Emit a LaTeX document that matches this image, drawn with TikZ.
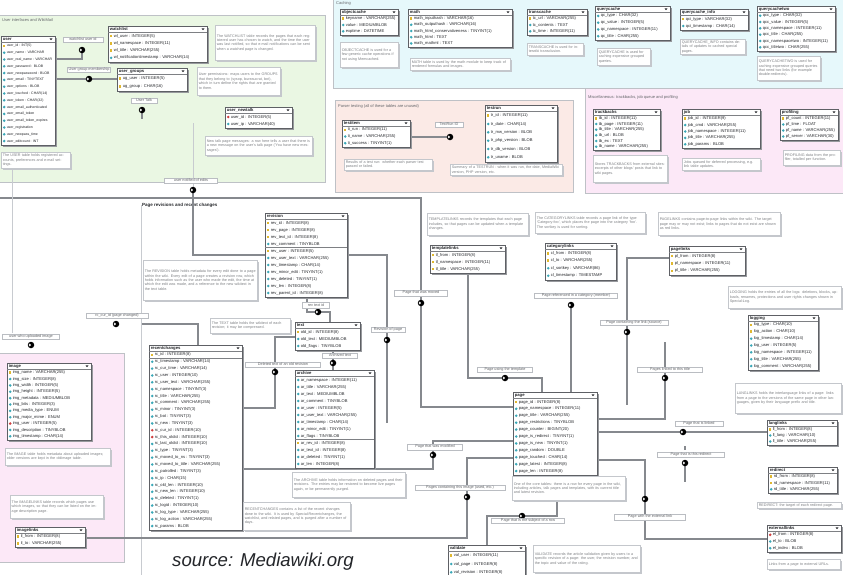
\PassOptionsToPackage{rgb}{xcolor}
\documentclass[tikz,border=0pt]{standalone}
\usepackage{fontspec}
\setmainfont{Liberation Sans}
\usetikzlibrary{shapes.geometric}
\definecolor{greenbg}{RGB}{234,247,227}
\definecolor{cyanbg}{RGB}{230,248,251}
\definecolor{salmonbg}{RGB}{251,234,230}
\definecolor{pinkbg}{RGB}{252,232,247}
\definecolor{keyc}{RGB}{224,184,48}
\definecolor{colc}{RGB}{58,168,184}
\definecolor{fkc}{RGB}{208,64,64}
\definecolor{tborder}{RGB}{94,96,101}
\definecolor{wirec}{RGB}{134,137,142}
\definecolor{wirelc}{RGB}{200,203,208}
\definecolor{labc}{RGB}{186,189,194}
\definecolor{notec}{RGB}{196,199,204}
\definecolor{regc}{RGB}{190,193,198}
\definecolor{shadc}{RGB}{151,153,157}
\definecolor{sepc}{RGB}{126,128,132}
\definecolor{rowc}{RGB}{36,38,42}
\definecolor{notetc}{RGB}{126,128,132}
\definecolor{labtc}{RGB}{100,102,106}
\tikzset{
  tbox/.style={draw=tborder, fill=white, line width=0.6pt, inner sep=0pt, outer sep=0pt},
  tshadow/.style={fill=shadc},
  tsep/.style={fill=sepc},
  thead/.style={font=\fontsize{4.2}{4.2}\selectfont\bfseries, inner sep=0pt, text=rowc},
  trow/.style={font=\fontsize{4.1}{4.1}\selectfont, inner sep=0pt, text=rowc},
  ick/.style={rectangle, fill=keyc, minimum width=2.2pt, minimum height=2.6pt, inner sep=0pt},
  icc/.style={diamond, fill=colc, minimum size=3pt, inner sep=0pt},
  icf/.style={diamond, fill=fkc, minimum size=3pt, inner sep=0pt},
  icon/.code={\if k#1\pgfkeysalso{ick}\else\if f#1\pgfkeysalso{icf}\else\pgfkeysalso{icc}\fi\fi},
  nbox/.style={draw=notec, fill=white, line width=0.5pt, inner sep=1.5pt, align=left, font=\fontsize{3.7}{4.4}\selectfont, text=notetc},
  nshadow/.style={fill=notec},
  lab/.style={draw=labc, fill=white, line width=0.5pt, inner sep=0.8pt, font=\fontsize{3.8}{4}\selectfont, text=labtc, minimum height=5.5pt},
  wire/.style={draw=wirec, line width=1.3pt},
  wirel/.style={draw=wirelc, line width=1pt},
  jn/.style={circle, fill=black, minimum size=6.5pt, inner sep=0pt},
  jnin/.style={diamond, fill=white, minimum width=2.4pt, minimum height=3pt, inner sep=0pt},
  rtitle/.style={font=\fontsize{4}{4}\selectfont, text=labtc, inner sep=0pt, anchor=west},
}
% #1 name, #2 x1, #3 y1, #4 x2, #5 y2, #6 title, #7 rows
\newcommand\dbtab[7]{%
  \foreach \rt/\rk [count=\cn] in {#7} {\xdef\nrows{\cn}}%
  \pgfmathsetmacro\tbw{#4-(#2)}%
  \pgfmathsetmacro\tbh{#5-(#3)}%
  \pgfmathsetmacro\rowh{(#5-(#3)-7)/\nrows}%
  \fill[tshadow] (#2+1.6,#3+1.6) rectangle (#4+1.6,#5+1.6);
  \node[tbox, minimum width=\tbw pt, minimum height=\tbh pt, anchor=north west] (#1) at (#2,#3) {};
  \fill[tsep] (#2,#3+6.2) rectangle (#4,#3+6.8);
  \node[thead, anchor=west] (#1-h) at (#2+1.6,#3+3.4) {#6};
  \fill[rowc] (#4-5.5,#3+2.4) -- (#4-2.5,#3+2.4) -- (#4-4,#3+4.2) -- cycle;
  \foreach \rt/\rk [count=\i] in {#7} {%
    \pgfmathsetmacro\yy{#3+6.5+(\i-0.5)*\rowh}%
    \node[icon=\rk] (#1-i\i) at (#2+3.2,\yy) {};
    \node[trow, anchor=west] (#1-r\i) at (#2+5.6,\yy) {\rt};
  }%
}
% #1 name, #2 x1, #3 y1, #4 x2, #5 y2, #6 text
\newcommand\dbnote[6]{%
  \pgfmathsetmacro\nbw{#4-(#2)}\pgfmathsetmacro\nbh{#5-(#3)}\pgfmathsetmacro\nbt{#4-(#2)-3}%
  \node[nbox, minimum width=\nbw pt, minimum height=\nbh pt, text width=\nbt pt, anchor=north west] (#1) at (#2,#3) {#6};
  \fill[nshadow] ([shift={(0.25pt,-1.5pt)}]#1.north east) rectangle ([shift={(1.2pt,-1.2pt)}]#1.south east);
  \fill[nshadow] ([shift={(1.5pt,-0.25pt)}]#1.south west) rectangle ([shift={(1.2pt,-1.2pt)}]#1.south east);
}
% junction marker on coordinate #1
\newcommand\junc[1]{%
  \node[jn] (j#1) at (#1) {};
  \node[jnin] (j#1-in) at ([xshift=-1.2pt]#1) {};
}
\begin{document}
\begin{tikzpicture}[x=1pt,y=-1pt]
\useasboundingbox (0,0) rectangle (843,574);
\fill[white] (0,0) rectangle (843,574);

% ---------- regions ----------
\fill[greenbg, draw=regc, line width=0.5pt] (-2,15) rectangle (325,182);
\node[rtitle] (tgreen) at (2,20) {User interfaces and WikiMail};
\fill[cyanbg, draw=regc, line width=0.5pt] (333,-2) rectangle (845,88);
\node[rtitle] (tcyan) at (336,3) {Caching};
\fill[salmonbg, draw=regc, line width=0.5pt] (335,100) rectangle (573,192);
\node[rtitle] (tsalmon) at (338,106) {Parser testing (all of these tables are unused)};
\fill[pinkbg, draw=regc, line width=0.5pt] (585,88) rectangle (845,193);
\node[rtitle] (tpink) at (588,97) {Miscellaneous: trackbacks, job queue and profiling};
\fill[pinkbg, draw=regc, line width=0.5pt] (-2,353) rectangle (124,562);
\node[font=\fontsize{4.5}{4.5}\selectfont\bfseries, text=rowc, inner sep=0pt, anchor=west] (tcentral) at (142,205.5) {Page revisions and recent changes};

% ---------- junction and end-point coordinates ----------
\coordinate (dwl) at (82,50);
\coordinate (dug) at (89,79);
\coordinate (dtalk) at (142,110);
\coordinate (talkend) at (142,119);
\coordinate (nt1) at (193,123);
\coordinate (dnotify) at (193,190);
\coordinate (topleft) at (-2,198);
\coordinate (mv1) at (421,198);
\coordinate (dmove) at (421,303);
\coordinate (u1) at (12,168);
\coordinate (u2) at (12,333);
\coordinate (v1) at (141,205);
\coordinate (v2) at (141,576);
\coordinate (rcj) at (142,324);
\coordinate (dcur) at (116,324);
\coordinate (dimguser) at (31,345);
\coordinate (drev) at (387,340);
\coordinate (revend) at (387,423);
\coordinate (dtxt) at (318,312);
\coordinate (ddel) at (275,372);
\coordinate (darc) at (333,363);
\coordinate (dmod) at (433,455);
\coordinate (dimg) at (467,497);
\coordinate (dtpl) at (505,378);
\coordinate (dcat) at (571,305);
\coordinate (dpl) at (627,332);
\coordinate (plend) at (627,405);
\coordinate (plt) at (665,342);
\coordinate (dplt) at (665,378);
\coordinate (dll) at (683,432);
\coordinate (drd) at (685,463);
\coordinate (rdend) at (685,482);
\coordinate (rdt1) at (685,446);
\coordinate (rdt2) at (685,450);
\coordinate (del) at (645,499);
\coordinate (dval) at (522,516);
\coordinate (dtr) at (450,137);
% ports on table edges
\coordinate (userE1) at (55,59);
\coordinate (userE2) at (55,79);
\coordinate (ugW) at (117,79);
\coordinate (revW) at (265,255);
\coordinate (revE) at (347,255);
\coordinate (revS) at (307,297);
\coordinate (txtN) at (330,322);
\coordinate (txtW) at (295,337);
\coordinate (txtS) at (333,350);
\coordinate (arcN) at (333,370);
\coordinate (rcN) at (198,345);
\coordinate (rcE1) at (242,408);
\coordinate (rcE2) at (242,469);
\coordinate (ilE) at (85,538);
\coordinate (tlS) at (468,273);
\coordinate (plW) at (669,258);
\coordinate (pgW1) at (513,407);
\coordinate (pgW2) at (513,441);
\coordinate (pgW3) at (513,458);
\coordinate (pgN1) at (542,392);
\coordinate (pgN2) at (571,392);
\coordinate (pgE1) at (597,419);
\coordinate (pgE2) at (597,432);
\coordinate (pgE3) at (597,460);
\coordinate (pgS) at (557,475);
\coordinate (llW) at (767,432);
\coordinate (elW) at (767,539);
\coordinate (valN) at (487,545);
\coordinate (tiE) at (410,137);

% ---------- connectors (drawn beneath the tables) ----------
\draw[wire] (userE1) -| (dwl);
\draw[wire] (userE2) -- (ugW);
\draw[wire] (dtalk) -- (talkend);
\draw[wirel] (nt1) -- (dnotify);
\draw[wire] (dnotify) |- (revW);
\draw[wire] (topleft) -- (mv1) |- (pgW1);
\draw[wirel] (u1) -- (u2);
\draw[wirel] (v1) -- (v2);
\draw[wire] (tiE) -- (dtr);
\draw[wire] (rcN) |- (rcj);
\draw[wire] (revE) -| (revend);
\draw[wire] (revS) |- (dtxt) -| (txtN);
\draw[wire] (txtW) -| (ddel) |- (rcE1);
\draw[wire] (txtS) -- (arcN);
\draw[wire] (rcE2) -| (dmod) |- (pgW2);
\draw[wire] (ilE) -| (dimg) |- (pgW3);
\draw[wire] (tlS) |- (dtpl) -| (pgN1);
\draw[wire] (dcat) -- (pgN2);
\draw[wire] (plW) -| (plend);
\draw[wire] (plt) |- (pgE1);
\draw[wire] (pgE2) -- (llW);
\draw[wire] (drd) -- (rdend);
\draw[wire] (rdt1) -- (rdt2);
\draw[wire] (pgE3) -| (del) |- (elW);
\draw[wire] (pgS) |- (dval) -| (valN);

% ---------- tables ----------
\begin{scope}[trow/.style={font=\fontsize{3.5}{3.5}\selectfont, inner sep=0pt, text=rowc}]
\dbtab{user}{1}{36}{55}{145}{user}{user\_id : INT(5)/k, user\_name : VARCHAR/c, user\_real\_name : VARCHAR/c, user\_password : BLOB/c, user\_newpassword : BLOB/c, user\_email : TINYTEXT/c, user\_options : BLOB/c, user\_touched : CHAR(14)/c, user\_token : CHAR(32)/c, user\_email\_authenticated/c, user\_email\_token/c, user\_email\_token\_expires/c, user\_registration/c, user\_newpass\_time/c, user\_editcount : INT/c}
\end{scope}
\dbtab{watchlist}{108}{26}{207}{62}{watchlist}{wl\_user : INTEGER(5)/k, wl\_namespace : INTEGER(11)/k, wl\_title : VARCHAR(255)/k, wl\_notificationtimestamp : VARCHAR(14)/c}
\dbtab{usergroups}{117}{68}{187}{91}{user\_groups}{ug\_user : INTEGER(5)/k, ug\_group : CHAR(16)/k}
\dbtab{usernewtalk}{225}{107}{292}{128}{user\_newtalk}{user\_id : INTEGER(5)/f, user\_ip : VARCHAR(40)/c}

\dbtab{objectcache}{340}{9}{398}{35}{objectcache}{keyname : VARCHAR(255)/k, value : MEDIUMBLOB/c, exptime : DATETIME/c}
\dbtab{math}{408}{9}{512}{47}{math}{math\_inputhash : VARCHAR(16)/k, math\_outputhash : VARCHAR(16)/c, math\_html\_conservativeness : TINYINT(1)/c, math\_html : TEXT/c, math\_mathml : TEXT/c}
\dbtab{transcache}{527}{9}{587}{35}{transcache}{tc\_url : VARCHAR(255)/k, tc\_contents : TEXT/c, tc\_time : INTEGER(11)/c}
\dbtab{querycache}{595}{6}{670}{40}{querycache}{qc\_type : CHAR(32)/c, qc\_value : INTEGER(5)/c, qc\_namespace : INTEGER(11)/c, qc\_title : CHAR(255)/c}
\dbtab{querycacheinfo}{680}{9}{748}{30}{querycache\_info}{qci\_type : VARCHAR(32)/k, qci\_timestamp : CHAR(14)/c}
\dbtab{querycachetwo}{757}{6}{835}{51}{querycachetwo}{qcc\_type : CHAR(32)/c, qcc\_value : INTEGER(5)/c, qcc\_namespace : INTEGER(11)/c, qcc\_title : CHAR(255)/c, qcc\_namespacetwo : INTEGER(11)/c, qcc\_titletwo : CHAR(255)/c}

\dbtab{testitem}{342}{120}{410}{147}{testitem}{ti\_run : INTEGER(11)/k, ti\_name : VARCHAR(255)/c, ti\_success : TINYINT(1)/c}
\dbtab{testrun}{485}{105}{557}{162}{testrun}{tr\_id : INTEGER(11)/k, tr\_date : CHAR(14)/c, tr\_mw\_version : BLOB/c, tr\_php\_version : BLOB/c, tr\_db\_version : BLOB/c, tr\_uname : BLOB/c}

\dbtab{trackbacks}{593}{109}{660}{150}{trackbacks}{tb\_id : INTEGER(11)/k, tb\_page : INTEGER(11)/c, tb\_title : VARCHAR(255)/c, tb\_url : BLOB/c, tb\_ex : TEXT/c, tb\_name : VARCHAR(255)/c}
\dbtab{job}{682}{109}{760}{148}{job}{job\_id : INTEGER(9)/k, job\_cmd : VARCHAR(255)/c, job\_namespace : INTEGER(11)/c, job\_title : VARCHAR(255)/c, job\_params : BLOB/c}
\dbtab{profiling}{780}{109}{838}{140}{profiling}{pf\_count : INTEGER(11)/k, pf\_time : FLOAT/c, pf\_name : VARCHAR(255)/c, pf\_server : VARCHAR(30)/c}

\dbtab{revision}{265}{213}{347}{297}{revision}{rev\_id : INTEGER(8)/k, rev\_page : INTEGER(8)/k, rev\_text\_id : INTEGER(8)/k, rev\_comment : TINYBLOB/c, rev\_user : INTEGER(5)/k, rev\_user\_text : VARCHAR(255)/c, rev\_timestamp : CHAR(14)/c, rev\_minor\_edit : TINYINT(1)/c, rev\_deleted : TINYINT(1)/c, rev\_len : INTEGER(8)/c, rev\_parent\_id : INTEGER(8)/c}
\fill[tsep] (265,247.2) rectangle (347,247.8);
\dbtab{text}{295}{322}{360}{350}{text}{old\_id : INTEGER(8)/k, old\_text : MEDIUMBLOB/c, old\_flags : TINYBLOB/c}
\dbtab{archive}{295}{370}{374}{468}{archive}{ar\_namespace : INTEGER(11)/c, ar\_title : VARCHAR(255)/c, ar\_text : MEDIUMBLOB/c, ar\_comment : TINYBLOB/c, ar\_user : INTEGER(5)/c, ar\_user\_text : VARCHAR(255)/c, ar\_timestamp : CHAR(14)/c, ar\_minor\_edit : TINYINT(1)/c, ar\_flags : TINYBLOB/c, ar\_rev\_id : INTEGER(8)/k, ar\_text\_id : INTEGER(8)/c, ar\_deleted : TINYINT(1)/c, ar\_len : INTEGER(8)/c}
\fill[tsep] (295,439.2) rectangle (374,439.8);
\dbtab{recentchanges}{149}{345}{242}{530}{recentchanges}{rc\_id : INTEGER(8)/k, rc\_timestamp : VARCHAR(14)/c, rc\_cur\_time : VARCHAR(14)/c, rc\_user : INTEGER(10)/c, rc\_user\_text : VARCHAR(255)/c, rc\_namespace : TINYINT(3)/c, rc\_title : VARCHAR(255)/c, rc\_comment : VARCHAR(255)/c, rc\_minor : TINYINT(3)/c, rc\_bot : TINYINT(3)/c, rc\_new : TINYINT(3)/c, rc\_cur\_id : INTEGER(10)/f, rc\_this\_oldid : INTEGER(10)/f, rc\_last\_oldid : INTEGER(10)/c, rc\_type : TINYINT(3)/c, rc\_moved\_to\_ns : TINYINT(3)/c, rc\_moved\_to\_title : VARCHAR(255)/c, rc\_patrolled : TINYINT(3)/c, rc\_ip : CHAR(15)/c, rc\_old\_len : INTEGER(10)/c, rc\_new\_len : INTEGER(10)/c, rc\_deleted : TINYINT(1)/c, rc\_logid : INTEGER(10)/c, rc\_log\_type : VARCHAR(255)/c, rc\_log\_action : VARCHAR(255)/c, rc\_params : BLOB/c}
\fill[tsep] (149,358.1) rectangle (242,358.7);
\dbtab{page}{513}{392}{597}{475}{page}{page\_id : INTEGER(8)/k, page\_namespace : INTEGER(11)/c, page\_title : VARCHAR(255)/c, page\_restrictions : TINYBLOB/c, page\_counter : BIGINT(20)/c, page\_is\_redirect : TINYINT(1)/c, page\_is\_new : TINYINT(1)/c, page\_random : DOUBLE/c, page\_touched : CHAR(14)/c, page\_latest : INTEGER(8)/c, page\_len : INTEGER(8)/c}
\dbtab{templatelinks}{430}{245}{505}{273}{templatelinks}{tl\_from : INTEGER(8)/k, tl\_namespace : INTEGER(11)/k, tl\_title : VARCHAR(255)/k}
\dbtab{categorylinks}{545}{243}{616}{280}{categorylinks}{cl\_from : INTEGER(8)/k, cl\_to : VARCHAR(255)/k, cl\_sortkey : VARCHAR(86)/c, cl\_timestamp : TIMESTAMP/c}
\dbtab{pagelinks}{669}{246}{745}{275}{pagelinks}{pl\_from : INTEGER(8)/k, pl\_namespace : INTEGER(11)/k, pl\_title : VARCHAR(255)/k}
\dbtab{logging}{748}{315}{818}{370}{logging}{log\_type : CHAR(10)/k, log\_action : CHAR(10)/k, log\_timestamp : CHAR(14)/c, log\_user : INTEGER(5)/c, log\_namespace : INTEGER(11)/c, log\_title : VARCHAR(255)/c, log\_comment : VARCHAR(255)/c}
\dbtab{langlinks}{767}{420}{837}{445}{langlinks}{ll\_from : INTEGER(8)/k, ll\_lang : VARCHAR(10)/c, ll\_title : VARCHAR(255)/c}
\dbtab{redirect}{768}{467}{837}{493}{redirect}{rd\_from : INTEGER(8)/k, rd\_namespace : INTEGER(11)/k, rd\_title : VARCHAR(255)/c}
\dbtab{externallinks}{767}{525}{841}{552}{externallinks}{el\_from : INTEGER(8)/f, el\_to : BLOB/c, el\_index : BLOB/c}
\dbtab{validate}{448}{545}{525}{577}{validate}{val\_user : INTEGER(11)/k, val\_page : INTEGER(8)/c, val\_revision : INTEGER(8)/c}
\dbtab{image}{7}{363}{91}{440}{image}{img\_name : VARCHAR(255)/k, img\_size : INTEGER(8)/c, img\_width : INTEGER(5)/c, img\_height : INTEGER(5)/c, img\_metadata : MEDIUMBLOB/c, img\_bits : INTEGER(3)/c, img\_media\_type : ENUM/c, img\_major\_mime : ENUM/c, img\_user : INTEGER(5)/f, img\_description : TINYBLOB/c, img\_timestamp : CHAR(14)/c}
\dbtab{imagelinks}{15}{527}{85}{547}{imagelinks}{il\_from : INTEGER(8)/k, il\_to : VARCHAR(255)/k}

% ---------- notes ----------
\dbnote{nuser}{1}{152}{70}{168}{The USER table holds registered accounts, preferences and e-mail settings.}
\dbnote{nwatch}{215}{25}{315}{60}{The WATCHLIST table records the pages that each registered user has chosen to watch, and the time the user was last notified, so that e-mail notifications can be sent when a watched page is changed.}
\dbnote{nug}{197}{67}{280}{95}{User permissions: maps users to the GROUPS that they belong to (sysop, bureaucrat, bot), which in turn define the rights that are granted to them.}
\dbnote{nnewtalk}{205}{136}{312}{155}{New talk page messages: a row here tells a user that there is a new message on the user's talk page ('You have new messages').}
\dbnote{nobj}{340}{42}{398}{67}{OBJECTCACHE is used for a few generic cache operations if not using Memcached.}
\dbnote{nmath}{410}{58}{510}{70}{MATH table is used by the math module to keep track of rendered formulas and images.}
\dbnote{ntrans}{527}{43}{583}{55}{TRANSCACHE is used for interwiki transclusion.}
\dbnote{nqc}{597}{48}{650}{65}{QUERYCACHE is used for caching expensive grouped queries.}
\dbnote{nqci}{680}{39}{745}{52}{QUERYCACHE\_INFO contains details of updates to cached special pages.}
\dbnote{nqcc}{757}{56}{820}{80}{QUERYCACHETWO is used for caching expensive grouped queries that need two links (for example double-redirects).}
\dbnote{ntestitem}{344}{159}{432}{170}{Results of a test run: whether each parser test passed or failed.}
\dbnote{ntestrun}{450}{164}{562}{175}{Summary of a TESTRUN - when it was run, the date, MediaWiki version, PHP version, etc.}
\dbnote{ntrack}{593}{155}{667}{182}{Stores TRACKBACKS from external sites: excerpts of other blogs' posts that link to wiki pages.}
\dbnote{njob}{682}{158}{760}{170}{Jobs queued for deferred processing, e.g. link table updates.}
\dbnote{nprof}{783}{150}{840}{165}{PROFILING data from the profiler, totalled per function.}
\dbnote{nrev}{143}{260}{257}{300}{The REVISION table holds metadata for every edit done to a page within the wiki. Every edit of a page creates a revision row, which holds information such as the user who made the edit, the time at which the edit was made, and a reference to the new wikitext in the text table.}
\dbnote{ntext}{210}{318}{290}{333}{The TEXT table holds the wikitext of each revision; it may be compressed.}
\dbnote{narch}{292}{472}{405}{497}{The ARCHIVE table holds information on deleted pages and their revisions. The entries may be restored to become live pages again, or be permanently purged.}
\dbnote{nrc}{243}{502}{350}{530}{RECENTCHANGES contains a list of the recent changes done to the wiki. It is used by Special:Recentchanges, the watchlist, and related pages, and is purged after a number of days.}
\dbnote{ntpl}{427}{213}{528}{235}{TEMPLATELINKS records the templates that each page includes, so that pages can be updated when a template changes.}
\dbnote{ncat}{535}{212}{645}{233}{The CATEGORYLINKS table records a page link of the type 'Category:foo', which places the page into the category 'foo'. The sortkey is used for sorting.}
\dbnote{npl}{658}{212}{780}{235}{PAGELINKS contains page-to-page links within the wiki. The target page may or may not exist; links to pages that do not exist are shown as red links.}
\dbnote{nlog}{728}{286}{841}{308}{LOGGING holds the entries of all the logs: deletions, blocks, uploads, renames, protections and user rights changes shown in Special:Log.}
\dbnote{nll}{735}{383}{841}{413}{LANGLINKS holds the interlanguage links of a page: links from a page to the versions of the same page in other languages, given by their language prefix and title.}
\dbnote{npage}{512}{476}{625}{500}{One of the core tables: there is a row for every page in the wiki, including articles, talk pages and templates, with its current title and latest revision.}
\dbnote{nval}{533}{545}{640}{572}{VALIDATE records the article validation given by users to a specific revision of a page: the user, the revision number, and the topic and value of the rating.}
\dbnote{nrd}{757}{502}{841}{508}{REDIRECT: the target of each redirect page.}
\dbnote{nel}{767}{559}{840}{569}{Links from a page to external URLs.}
\dbnote{nimg}{5}{448}{110}{465}{The IMAGE table holds metadata about uploaded images; older versions are kept in the oldimage table.}
\dbnote{nil}{10}{495}{103}{518}{The IMAGELINKS table records which pages use which images, so that they can be listed on the image description page.}

% ---------- junctions ----------
\foreach \jj in {dwl,dug,dtalk,dnotify,dmove,dcur,dimguser,drev,dtxt,ddel,darc,dmod,dimg,dtpl,dcat,dpl,dplt,dll,drd,del,dval,dtr} {\junc{\jj}}

% ---------- labels ----------
\node[lab, minimum width=40pt] (lwl) at (83,39.5) {watchlist user id};
\node[lab, minimum width=43pt] (lug) at (89,69.5) {User group membership};
\node[lab, minimum width=26pt] (ltalk) at (144,100.5) {User Talk};
\node[lab, minimum width=53pt] (lnotify) at (191,180.5) {user notified of edits};
\node[lab, minimum width=57pt] (limguser) at (31,336.5) {user who uploaded image};
\node[lab, minimum width=62pt] (lcur) at (117,315.5) {rc\_cur\_id (page changed)};
\node[lab, minimum width=27pt] (lrtext) at (316,305) {rev text id};
\node[lab, minimum width=34pt] (lrpage) at (388,329.5) {Revision of page};
\node[lab, minimum width=53pt] (lmove) at (421,293) {Page that was moved};
\node[lab, minimum width=75pt] (ldel) at (283,364.5) {Deleted text of an old revision};
\node[lab, minimum width=35pt] (larc) at (340,355.5) {Archived text};
\node[lab, minimum width=55pt] (lmod) at (435,447) {Page that was modified};
\node[lab, minimum width=90pt] (limg) at (460,487.5) {Pages containing this image (used, etc.)};
\node[lab, minimum width=73pt] (lval) at (528,520.5) {Page that is the subject of a row};
\node[lab, minimum width=55pt] (ltpl) at (505,369.5) {Page using the template};
\node[lab, minimum width=83pt] (lcat) at (576,295.5) {Page referenced in a category (member)};
\node[lab, minimum width=68pt] (lpl) at (634,322.5) {Page containing the link (source)};
\node[lab, minimum width=65pt] (lplt) at (670,369.5) {Pages linked to this title};
\node[lab, minimum width=48pt] (lll) at (699,423.5) {Page that is linked};
\node[lab, minimum width=67pt] (lrd) at (691,454.5) {Page that is this redirect};
\node[lab, minimum width=71pt] (lel) at (650,517) {Page with the external link};
\node[lab, minimum width=28pt] (ltr) at (449,124.5) {TestRun ID};

% ---------- source ----------
\node[font=\fontsize{18.6}{20}\selectfont\itshape, text=rowc, anchor=base west, inner sep=0pt] (src) at (172,566) {source: Mediawiki.org};
\end{tikzpicture}
\end{document}
